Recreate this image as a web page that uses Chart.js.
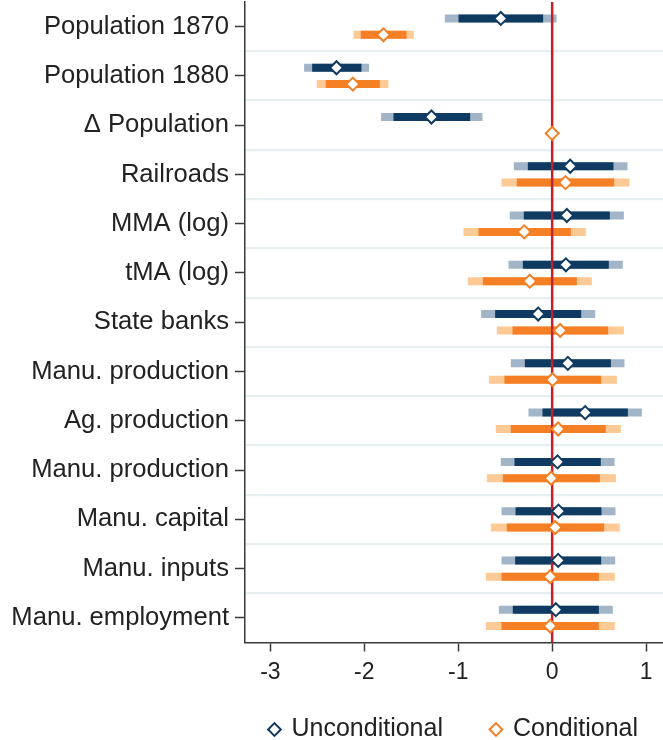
<!DOCTYPE html>
<html>
<head>
<meta charset="utf-8">
<script src="https://cdn.jsdelivr.net/npm/chart.js@4"></script>
<style>
  html, body { margin: 0; padding: 0; background: #ffffff; }
  #wrap { width: 663px; height: 740px; }
</style>
</head>
<body>
<div id="wrap"><canvas id="chart" width="663" height="740"></canvas></div>
<script>
// Coefficient estimates with 90% (inner) and 95% (outer) confidence intervals
const categories = [
  'Population 1870', 'Population 1880', 'Δ Population', 'Railroads',
  'MMA (log)', 'tMA (log)', 'State banks', 'Manu. production',
  'Ag. production', 'Manu. production', 'Manu. capital', 'Manu. inputs',
  'Manu. employment'
];

const uncondEst  = [-0.547, -2.296, -1.285, 0.192, 0.156, 0.146, -0.149, 0.167, 0.351, 0.057, 0.067, 0.064, 0.039];
const uncondLo90 = [-0.997, -2.555, -1.689, -0.259, -0.302, -0.312, -0.607, -0.291, -0.103, -0.401, -0.390, -0.394, -0.419];
const uncondHi90 = [-0.096, -2.030, -0.873, 0.653, 0.614, 0.603, 0.309, 0.625, 0.806, 0.518, 0.525, 0.522, 0.497];
const uncondLo95 = [-1.143, -2.641, -1.821, -0.408, -0.451, -0.465, -0.756, -0.440, -0.252, -0.547, -0.539, -0.539, -0.568];
const uncondHi95 = [0.046, -1.949, -0.742, 0.802, 0.763, 0.752, 0.458, 0.770, 0.955, 0.664, 0.674, 0.671, 0.646];

const condEst  = [-1.796, -2.122, 0, 0.142, -0.298, -0.238, 0.085, 0.004, 0.064, -0.011, 0.032, -0.021, -0.021];
const condLo90 = [-2.037, -2.410, 0, -0.376, -0.784, -0.738, -0.422, -0.508, -0.440, -0.525, -0.483, -0.539, -0.539];
const condHi90 = [-1.551, -1.835, 0, 0.660, 0.199, 0.263, 0.596, 0.522, 0.571, 0.508, 0.554, 0.497, 0.497];
const condLo95 = [-2.115, -2.506, 0, -0.539, -0.944, -0.898, -0.589, -0.674, -0.600, -0.696, -0.653, -0.706, -0.706];
const condHi95 = [-1.473, -1.743, 0, 0.823, 0.358, 0.422, 0.763, 0.689, 0.731, 0.678, 0.720, 0.667, 0.667];

const xTicks = [-3, -2, -1, 0, 1];

// vertical shift of each series within its row (in category units)
const UNCOND_SHIFT = -0.166;
const COND_SHIFT = 0.166;

const NAVY = '#0f3a62';
const NAVY_LIGHT = '#a2b5c8';
const ORANGE = '#f47f24';
const ORANGE_LIGHT = '#fdc995';
const ZERO_RED = '#c3202c';
const FONT = "'Liberation Sans', Arial, Helvetica, sans-serif";

// turn lo/hi arrays into broken line segments, one per row
function intervals(lo, hi, shift) {
  const pts = [];
  lo.forEach((l, i) => {
    pts.push({ x: l, y: i + shift });
    pts.push({ x: hi[i], y: i + shift });
    pts.push({ x: null, y: null });
  });
  return pts;
}
function points(est, shift) {
  return est.map((v, i) => ({ x: v, y: i + shift }));
}

function ciSet(label, data, color, order) {
  return {
    label, data, order,
    showLine: true, borderColor: color, borderWidth: 8,
    borderCapStyle: 'butt', pointRadius: 0, spanGaps: false, tension: 0
  };
}
function pointSet(label, data, color) {
  return {
    label, data, order: 0, showLine: false,
    pointStyle: 'rectRot', pointRadius: 6.5,
    backgroundColor: '#ffffff', borderColor: color, borderWidth: 2,
    pointBackgroundColor: '#ffffff', pointBorderColor: color, pointBorderWidth: 2
  };
}

// keep the plot edges exactly where the layout puts them
function noOverhang(s) {
  s.paddingLeft = 0; s.paddingRight = 0; s.paddingTop = 0; s.paddingBottom = 0;
}

const nRows = categories.length;

new Chart(document.getElementById('chart'), {
  type: 'scatter',
  data: {
    datasets: [
      pointSet('Unconditional', points(uncondEst, UNCOND_SHIFT), NAVY),
      pointSet('Conditional', points(condEst, COND_SHIFT), ORANGE),
      {
        label: 'zero', order: 2, showLine: true,
        data: [{ x: 0, y: -0.5 }, { x: 0, y: nRows - 0.5 }],
        borderColor: ZERO_RED, borderWidth: 2.5, pointRadius: 0
      },
      ciSet('u90', intervals(uncondLo90, uncondHi90, UNCOND_SHIFT), NAVY, 4),
      ciSet('c90', intervals(condLo90, condHi90, COND_SHIFT), ORANGE, 4),
      ciSet('u95', intervals(uncondLo95, uncondHi95, UNCOND_SHIFT), NAVY_LIGHT, 6),
      ciSet('c95', intervals(condLo95, condHi95, COND_SHIFT), ORANGE_LIGHT, 6)
    ]
  },
  options: {
    responsive: false,
    animation: false,
    events: [],
    layout: { autoPadding: false, padding: { top: 2, right: 0, bottom: -12, left: 0 } },
    plugins: {
      tooltip: { enabled: false },
      legend: {
        position: 'bottom',
        fullSize: false,
        labels: {
          usePointStyle: true,
          boxWidth: 9,
          boxHeight: 9,
          padding: 13.5,
          color: '#222222',
          font: { family: FONT, size: 25 },
          // the two estimate series, with an empty gap entry between them
          generateLabels: (chart) => {
            const all = Chart.defaults.plugins.legend.labels.generateLabels(chart);
            const keep = all.filter(it => it.text === 'Unconditional' || it.text === 'Conditional');
            const gap = {
              text: '', fillStyle: 'rgba(0,0,0,0)', strokeStyle: 'rgba(0,0,0,0)',
              lineWidth: 0, pointStyle: 'circle', hidden: false, datasetIndex: -1
            };
            return [keep[0], gap, keep[1]];
          }
        }
      }
    },
    scales: {
      x: {
        type: 'linear',
        min: -3.27,
        max: 1.18,
        afterBuildTicks: (s) => { s.ticks = xTicks.map(v => ({ value: v })); },
        afterFit: (s) => { s.height = 61; noOverhang(s); },
        grid: {
          drawOnChartArea: false, drawTicks: true, tickLength: 9,
          tickColor: '#3a3a3a', tickWidth: 1.5
        },
        border: { color: '#3a3a3a', width: 1.5 },
        ticks: {
          color: '#222222', padding: 7,
          font: { family: FONT, size: 23 },
          callback: (v) => String(v)
        }
      },
      y: {
        type: 'linear',
        position: 'left',
        reverse: true,
        min: -0.5,
        max: nRows - 0.5,
        afterBuildTicks: (s) => { s.ticks = categories.map((c, i) => ({ value: i })); },
        afterFit: (s) => { s.width = 245; noOverhang(s); },
        grid: {
          drawOnChartArea: false, drawTicks: true, tickLength: 10,
          tickColor: '#3a3a3a', tickWidth: 1.5
        },
        border: { color: '#3a3a3a', width: 1.5 },
        ticks: {
          color: '#222222', padding: 6,
          font: { family: FONT, size: 25.6 },
          callback: (v) => categories[v]
        }
      },
      rows: {
        type: 'linear',
        position: 'right',
        reverse: true,
        min: -0.5,
        max: nRows - 0.5,
        afterBuildTicks: (s) => {
          s.ticks = categories.slice(1).map((c, i) => ({ value: i + 0.5 }));
        },
        afterFit: (s) => { s.width = 0; noOverhang(s); },
        grid: { drawOnChartArea: true, drawTicks: false, color: '#e7eff1', lineWidth: 2.2 },
        border: { display: false },
        ticks: { display: false }
      }
    }
  }
});
</script>
</body>
</html>
